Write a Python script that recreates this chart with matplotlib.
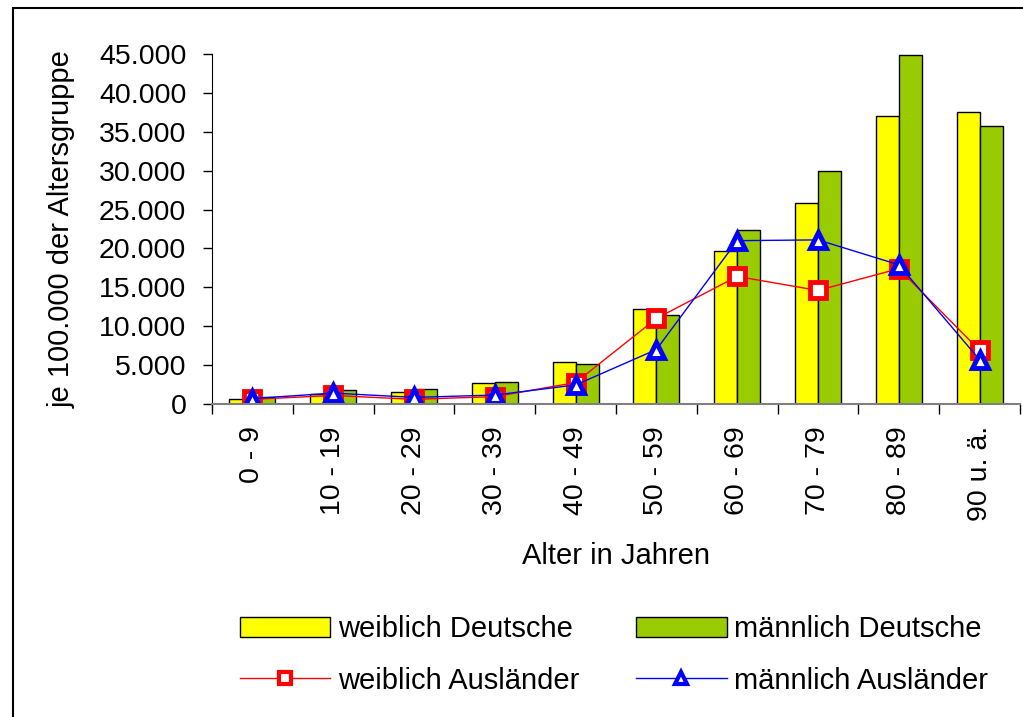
import numpy as np
import matplotlib.pyplot as plt
from matplotlib.patches import Rectangle

plt.rcParams['font.family'] = ['Liberation Sans', 'DejaVu Sans']

altersgruppen = ['0 - 9', '10 - 19', '20 - 29', '30 - 39', '40 - 49',
                 '50 - 59', '60 - 69', '70 - 79', '80 - 89', '90 u. ä.']
weiblich_deutsche = [600, 1350, 1500, 2650, 5400, 12200, 19700, 25900, 37000, 37600]
maennlich_deutsche = [850, 1800, 1900, 2800, 5200, 11400, 22400, 30000, 44900, 35800]
weiblich_auslaender = [600, 1100, 600, 950, 2750, 11000, 16400, 14600, 17400, 6900]
maennlich_auslaender = [700, 1400, 850, 1150, 2450, 7000, 21000, 21100, 17900, 5700]

fs = 21

fig = plt.figure(figsize=(10.23, 7.17), dpi=100)
ax = fig.add_axes([212 / 1023, 1 - 404 / 717, (1020 - 212) / 1023, 350 / 717])

x = np.arange(len(altersgruppen))
w = 0.285
b1 = ax.bar(x - w / 2, weiblich_deutsche, w, color='#ffff00', edgecolor='black', linewidth=1,
            label='weiblich Deutsche')
b2 = ax.bar(x + w / 2, maennlich_deutsche, w, color='#99cc00', edgecolor='black', linewidth=1,
            label='männlich Deutsche')
l1, = ax.plot(x, weiblich_auslaender, color='#ff0000', lw=1, marker='s', ms=11,
              mfc='white', mec='#ff0000', mew=3.5, label='weiblich Ausländer')
l2, = ax.plot(x, maennlich_auslaender, color='#0000ff', lw=1, marker='^', ms=12,
              mfc='white', mec='#0000ff', mew=3.5, label='männlich Ausländer')

ax.set_xlim(-0.5, len(altersgruppen) - 0.5)
ax.set_ylim(0, 45000)
ax.set_yticks(np.arange(0, 45001, 5000))
ax.set_yticklabels([f'{v:,}'.replace(',', '.') for v in range(0, 45001, 5000)], fontsize=20.5)
ax.set_xticks(np.arange(-0.5, len(altersgruppen), 1))
ax.set_xticklabels([])
ax.set_xticks(x, minor=True)
ax.set_xticklabels(altersgruppen, minor=True, rotation=90, fontsize=20.5)
ax.tick_params(axis='x', which='major', length=7, width=1, color='black')
ax.tick_params(axis='x', which='minor', length=0, pad=16)
ax.tick_params(axis='y', length=6.5, width=1, pad=12)
for s in ['top', 'right']:
    ax.spines[s].set_visible(False)
ax.spines['bottom'].set_color('#808080')
ax.spines['bottom'].set_linewidth(1.5)

ax.set_ylabel('je 100.000 der Altersgruppe', fontsize=fs)
ax.yaxis.set_label_coords((62 - 212) / 808, 0.5)
ax.yaxis.label.set_va('center')
ax.set_xlabel('Alter in Jahren', fontsize=fs)
ax.xaxis.set_label_coords(0.5, (404 - 556) / 350)
ax.xaxis.label.set_va('center')

leg = fig.legend([b1, l1, b2, l2],
                 ['weiblich Deutsche', 'weiblich Ausländer', 'männlich Deutsche', 'männlich Ausländer'],
                 ncol=2, loc='center', bbox_to_anchor=(614 / 1023, 1 - 655 / 717), frameon=False,
                 fontsize=fs, handlelength=3.1, handleheight=0.7, columnspacing=1.95,
                 labelspacing=0.8, handletextpad=0.27, borderpad=0)
for h in leg.legend_handles:
    if hasattr(h, 'set_markersize'):
        h.set_markersize(9)
        h.set_markeredgewidth(3)

fig.patches.append(Rectangle((13 / 1023, -0.1), 1.2, 1 - 8 / 717 + 0.1, transform=fig.transFigure,
                             fill=False, edgecolor='black', linewidth=1.5))

fig.savefig('out.png', dpi=100)
